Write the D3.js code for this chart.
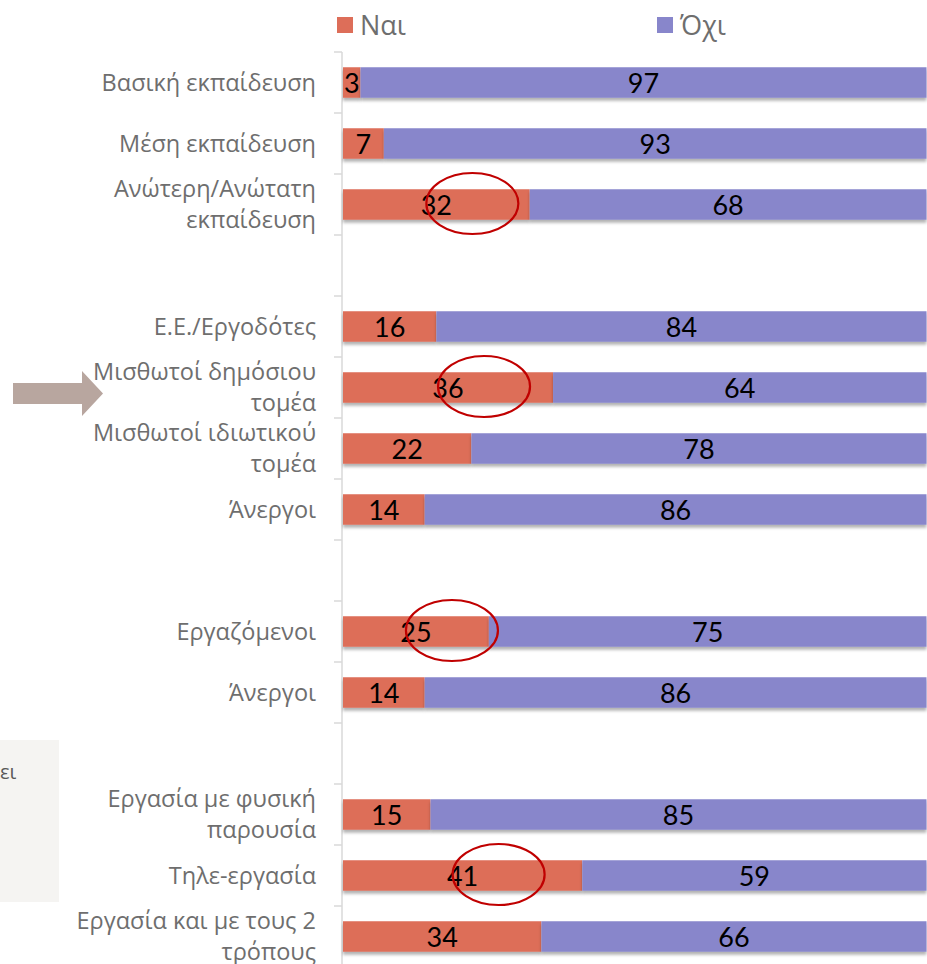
<!DOCTYPE html>
<html>
<head>
<meta charset="utf-8">
<script src="https://cdn.jsdelivr.net/npm/d3@7"></script>
<style>
  html, body { margin: 0; padding: 0; background: #fff; }
  svg { display: block; }
</style>
</head>
<body>
<div id="chart"></div>
<script>
// rows, blanks are the gaps between groups
const categories = [
    "Βασική εκπαίδευση",
    "Μέση εκπαίδευση",
    "Ανώτερη/Ανώτατη εκπαίδευση",
    "",
    "Ε.Ε./Εργοδότες",
    "Μισθωτοί δημόσιου τομέα",
    "Μισθωτοί ιδιωτικού τομέα",
    "Άνεργοι",
    "",
    "Εργαζόμενοι",
    "Άνεργοι",
    "",
    "Εργασία με φυσική παρουσία",
    "Τηλε-εργασία",
    "Εργασία και με τους 2 τρόπους"
];
// labels broken in two lines like the original
const labelLines = [
    ["Βασική εκπαίδευση"],
    ["Μέση εκπαίδευση"],
    ["Ανώτερη/Ανώτατη", "εκπαίδευση"],
    [],
    ["Ε.Ε./Εργοδότες"],
    ["Μισθωτοί δημόσιου", "τομέα"],
    ["Μισθωτοί ιδιωτικού", "τομέα"],
    ["Άνεργοι"],
    [],
    ["Εργαζόμενοι"],
    ["Άνεργοι"],
    [],
    ["Εργασία με φυσική", "παρουσία"],
    ["Τηλε-εργασία"],
    ["Εργασία και με τους 2", "τρόπους"]
];
const nai = [3, 7, 32, null, 16, 36, 22, 14, null, 25, 14, null, 15, 41, 34];
const oxi = [97, 93, 68, null, 84, 64, 78, 86, null, 75, 86, null, 85, 59, 66];
const seriesNames = ["Ναι", "Όχι"];
const colors = ["#dd6e59", "#8886cb"];
// rows that get a red circle round the "Ναι" value
const circled = [2, 5, 9, 13];

const width = 927,
    height = 964,
    x0 = 343,
    topY = 52,
    step = 61;

const svg = d3.select("#chart").append("svg")
    .attr("width", width)
    .attr("height", height);

const defs = svg.append("defs");
defs.append("filter")
    .attr("id", "shadow")
    .attr("x", "-5%").attr("y", "-20%")
    .attr("width", "110%").attr("height", "160%")
    .append("feDropShadow")
    .attr("dx", 0).attr("dy", 3)
    .attr("stdDeviation", 1.5)
    .attr("flood-color", "#000")
    .attr("flood-opacity", 0.3);

const rows = d3.range(categories.length);

const x = d3.scaleLinear().domain([0, 100]).range([x0, 926.5]);
const y = d3.scaleBand()
    .domain(rows)
    .range([topY, topY + step * rows.length])
    .paddingInner(0.5)
    .paddingOuter(0.25);

// the gray box at the bottom left
svg.append("rect")
    .attr("x", 0).attr("y", 740)
    .attr("width", 59).attr("height", 162)
    .attr("fill", "#f5f4f2");
svg.append("text")
    .attr("x", 0).attr("y", 779)
    .attr("font-family", "Open Sans, sans-serif")
    .attr("font-size", 20)
    .attr("fill", "#595959")
    .text("ει");

// arrow pointing at Μισθωτοί δημόσιου τομέα
svg.append("path")
    .attr("d", "M13,383 L82,383 L82,371 L103,393.5 L82,416 L82,404 L13,404 Z")
    .attr("fill", "#b8a69f");

// vertical axis with ticks at band edges
const axisG = svg.append("g");
axisG.append("line")
    .attr("x1", 342).attr("x2", 342)
    .attr("y1", topY).attr("y2", height)
    .attr("stroke", "#d9d9d9")
    .attr("stroke-width", 1.5);
axisG.selectAll("line.tick")
    .data(d3.range(rows.length + 1))
    .join("line")
    .attr("class", "tick")
    .attr("x1", 334).attr("x2", 342)
    .attr("y1", (k) => topY + k * step)
    .attr("y2", (k) => topY + k * step)
    .attr("stroke", "#d9d9d9")
    .attr("stroke-width", 1.5);

// category labels
const lab = svg.append("g")
    .attr("font-family", "Open Sans, sans-serif")
    .attr("font-size", 23.5)
    .attr("fill", "#6e6e6e")
    .attr("text-anchor", "end");
rows.forEach((i) => {
    const lines = labelLines[i];
    const cy = y(i) + y.bandwidth() / 2;
    lines.forEach((t, j) => {
        lab.append("text")
            .attr("x", 316)
            .attr("y", cy + (j - (lines.length - 1) / 2) * 31.5)
            .attr("dy", "0.35em")
            .text(t);
    });
});

// stacked bars
const data = rows.filter((i) => nai[i] !== null).map((i) => ({i, vals: [nai[i], oxi[i]]}));
const barG = svg.append("g");
data.forEach((d) => {
    let acc = 0;
    d.vals.forEach((v, s) => {
        barG.append("rect")
            .attr("x", x(acc))
            .attr("y", y(d.i))
            .attr("width", x(acc + v) - x(acc))
            .attr("height", y.bandwidth())
            .attr("fill", colors[s])
            .attr("filter", "url(#shadow)");
        acc += v;
    });
});

// value labels
const valG = svg.append("g")
    .attr("font-family", "Lato, Open Sans, sans-serif")
    .attr("font-size", 27)
    .attr("fill", "#000")
    .attr("text-anchor", "middle");
data.forEach((d) => {
    let acc = 0;
    d.vals.forEach((v) => {
        valG.append("text")
            .attr("x", x(acc + v / 2))
            .attr("y", y(d.i) + y.bandwidth() / 2 + 1)
            .attr("dy", "0.36em")
            .text(v);
        acc += v;
    });
});

// red ellipses
svg.append("g").selectAll("ellipse")
    .data(circled)
    .join("ellipse")
    .attr("cx", (i) => x(nai[i] / 2) + 36)
    .attr("cy", (i) => y(i) + y.bandwidth() / 2 - 1)
    .attr("rx", 46)
    .attr("ry", 30.5)
    .attr("fill", "none")
    .attr("stroke", "#c00000")
    .attr("stroke-width", 2.2);

// legend
const leg = svg.append("g")
    .attr("font-family", "Open Sans, sans-serif")
    .attr("font-size", 27)
    .attr("fill", "#6e6e6e");
const legX = [337, 657];
seriesNames.forEach((n, s) => {
    leg.append("rect")
        .attr("x", legX[s]).attr("y", 17)
        .attr("width", 16).attr("height", 16)
        .attr("fill", colors[s]);
    leg.append("text")
        .attr("x", legX[s] + 23).attr("y", 26)
        .attr("dy", "0.35em")
        .text(n);
});
</script>
</body>
</html>
